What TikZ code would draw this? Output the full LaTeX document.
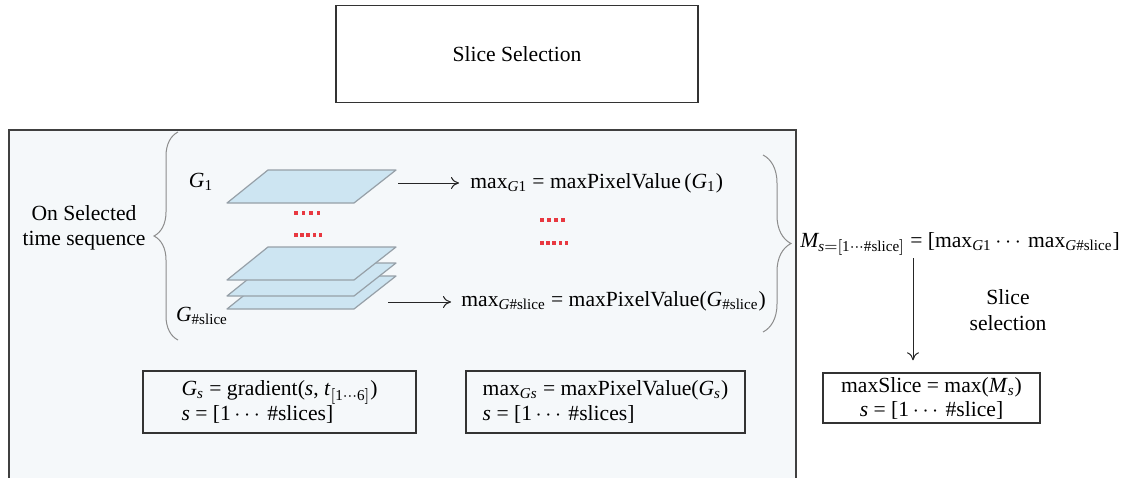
\documentclass[tikz,border=0pt]{standalone}
\usepackage{amsmath}
\usepackage{fontspec}
\setmainfont{Liberation Serif}
\usetikzlibrary{arrows.meta,decorations.pathreplacing}
\definecolor{panelfill}{RGB}{245,248,250}
\definecolor{plateblue}{RGB}{205,229,242}
\definecolor{plategray}{RGB}{150,160,168}
\definecolor{dotred}{RGB}{232,56,64}
\definecolor{bracegray}{RGB}{140,140,140}
\begin{document}
\begin{tikzpicture}[x=0.5pt,y=-0.5pt,
  font=\fontsize{10.8}{12.5}\selectfont,
  box/.style={draw=black!80, line width=0.7pt, inner sep=0pt},
  plate/.style={fill=plateblue, draw=plategray, line width=0.6pt, line join=round},
  arr/.style={-{To[length=4pt,width=6pt]}, line width=0.5pt, draw=black!85},
  bracedeco/.style={decorate, decoration={brace, amplitude=#1}, draw=bracegray, line width=0.5pt},
  lbl/.style={inner sep=0pt}]
\clip (0,0) rectangle (1125,477);
% top box
\node[box, minimum width=181pt, minimum height=48.5pt] (top) at (517,54) {Slice Selection};
% panel
\draw[draw=black!75, line width=0.8pt, fill=panelfill] (9,130) rectangle (796,520);
% plates
\foreach \t in {276,263,247}
  \draw[plate] (268,\t) -- (396,\t) -- (354,{\t+33}) -- (227,{\t+33}) -- cycle;
\draw[plate] (268,170) -- (396,170) -- (354,203) -- (227,203) -- cycle;
% red dots
\foreach \i in {0,...,3} \fill[dotred] ({294+\i*7.5},211) rectangle +(3.5,3.5);
\foreach \i in {0,...,4} \fill[dotred] ({294+\i*6.2},233) rectangle +(3.5,3.5);
\foreach \i in {0,...,3} \fill[dotred] ({540+\i*7},218) rectangle +(3.5,3.5);
\foreach \i in {0,...,4} \fill[dotred] ({540+\i*6.2},241) rectangle +(3.5,3.5);
% labels
\node[lbl] (g1) at (201,182) {$\textit{G}_{\text{1}}$};
\node[lbl] (gn) at (202,316) {$\textit{G}_{\text{\#slice}}$};
\node[align=center, lbl] (ost) at (84,228) {On Selected\\time sequence};
% braces
\draw[bracedeco=12pt] (178,340) -- (178,132);
\draw[bracedeco=14pt] (763,155) -- (763,332);
% max texts
\coordinate (p1) at (398,183);
\coordinate (p2) at (388,302);
\node[lbl, anchor=west] (m1) at (470,183) {max$_{\textit{G}\text{1}}$ = maxPixelValue\,(\textit{G}$_{\text{1}}$)};
\node[lbl, anchor=west] (m2) at (461,301) {max$_{\textit{G}\text{\#slice}}$ = maxPixelValue(\textit{G}$_{\text{\#slice}}$)};
\draw[arr, shorten >=5.5pt] (p1) -- (m1.west |- p1);
\draw[arr, shorten >=5pt] (p2) -- (m2.west |- p2);
% right part
\node[lbl, anchor=west] (ms) at (800,244) {$\textit{M}_{\textit{s}=[\text{1}\cdots\text{\#slice}]}$ = [max$_{\textit{G}\text{1}}$\,$\cdots$\,max$_{\textit{G}\text{\#slice}}$]};
\node[box, minimum width=108.5pt, minimum height=25pt, align=center, font=\fontsize{10.8}{12}\selectfont] (mx) at (931.5,398) {maxSlice = max(\textit{M}$_{\textit{s}}$)\\\textit{s} = [1\,$\cdots$\,\#slice]};
\coordinate (ax) at (913,0);
\draw[arr, shorten <=1pt, shorten >=6pt] (ax |- ms.south) -- (ax |- mx.north);
\node[lbl, align=center, font=\fontsize{10.8}{13}\selectfont] (sl) at (1008,310) {Slice\\selection};
% bottom boxes
\node[box, minimum width=136.5pt, minimum height=31pt, align=left] (b1) at (279.5,402) {$\textit{G}_{\textit{s}}$ = gradient(\textit{s}, \textit{t}$_{[\text{1}\cdots\text{6}]}$)\\\textit{s} = [1\,$\cdots$\,\#slices]};
\node[box, minimum width=139.5pt, minimum height=31pt, align=left] (b2) at (605.5,402) {max$_{\textit{Gs}}$ = maxPixelValue(\textit{G}$_{\textit{s}}$)\\\textit{s} = [1\,$\cdots$\,\#slices]};
\end{tikzpicture}
\end{document}
